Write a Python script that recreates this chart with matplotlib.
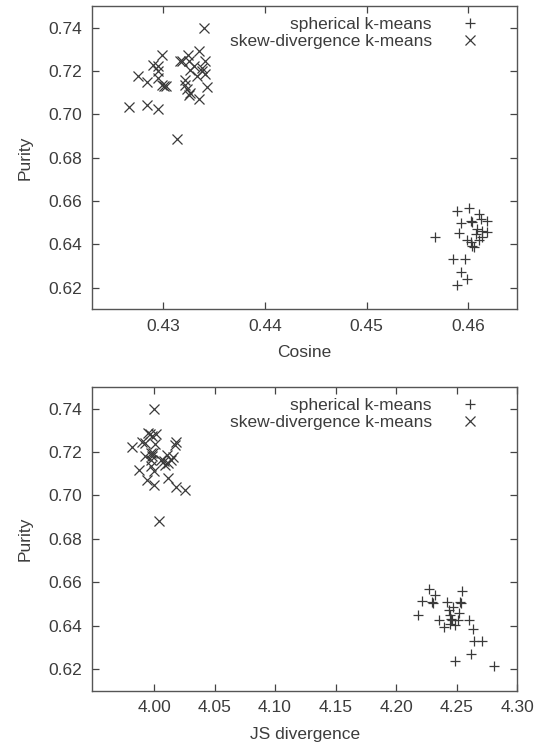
import matplotlib
matplotlib.use('Agg')
import matplotlib.pyplot as plt

# top panel: Cosine vs Purity
cos_sph_x = [0.4567, 0.4589, 0.4601, 0.4611, 0.4618, 0.4603, 0.4593, 0.4591, 0.4604,
             0.4613, 0.4609, 0.4614, 0.4618, 0.4599, 0.4603, 0.4604, 0.4606, 0.4611,
             0.4614, 0.4585, 0.4597, 0.4593, 0.4599, 0.4589, 0.4608]
cos_sph_y = [0.6433, 0.6556, 0.6569, 0.6541, 0.6510, 0.6510, 0.6498, 0.6451, 0.6502,
             0.6518, 0.6471, 0.6463, 0.6456, 0.6420, 0.6409, 0.6394, 0.6386, 0.6420,
             0.6433, 0.6332, 0.6332, 0.6270, 0.6239, 0.6211, 0.6448]
cos_skew_x = [0.4266, 0.4275, 0.4284, 0.4284, 0.4290, 0.4295, 0.4295, 0.4295, 0.4295,
              0.4299, 0.4299, 0.4301, 0.4303, 0.4313, 0.4316, 0.4318, 0.4321, 0.4321,
              0.4323, 0.4324, 0.4325, 0.4326, 0.4326, 0.4330, 0.4333, 0.4335, 0.4335,
              0.4338, 0.4338, 0.4340, 0.4341, 0.4341, 0.4343, 0.4325]
cos_skew_y = [0.7036, 0.7176, 0.7151, 0.7044, 0.7227, 0.7222, 0.7199, 0.7168, 0.7025,
              0.7276, 0.7137, 0.7132, 0.7129, 0.6885, 0.7244, 0.7245, 0.7160, 0.7137,
              0.7117, 0.7276, 0.7248, 0.7098, 0.7207, 0.7222, 0.7176, 0.7292, 0.7070,
              0.7199, 0.7214, 0.7400, 0.7245, 0.7188, 0.7126, 0.7090]

# bottom panel: JS divergence vs Purity
js_sph_x = [4.2179, 4.2216, 4.2270, 4.2321, 4.2298, 4.2307, 4.2355, 4.2400, 4.2419,
            4.2434, 4.2448, 4.2462, 4.2448, 4.2467, 4.2491, 4.2491, 4.2511, 4.2519,
            4.2533, 4.2525, 4.2547, 4.2604, 4.2638, 4.2646, 4.2711, 4.2621, 4.2807,
            4.2456]
js_sph_y = [0.6450, 0.6512, 0.6568, 0.6543, 0.6509, 0.6504, 0.6427, 0.6393, 0.6509,
            0.6470, 0.6447, 0.6424, 0.6409, 0.6486, 0.6404, 0.6239, 0.6424, 0.6459,
            0.6504, 0.6509, 0.6558, 0.6424, 0.6385, 0.6331, 0.6331, 0.6270, 0.6212,
            0.6432]
js_skew_x = [4.0000, 3.9816, 3.9873, 3.9901, 3.9929, 3.9938, 3.9949, 3.9966, 3.9972,
             3.9980, 3.9986, 4.0000, 3.9994, 4.0014, 4.0000, 3.9977, 3.9972, 4.0042,
             4.0057, 4.0079, 4.0091, 4.0105, 4.0113, 4.0119, 4.0142, 4.0156, 4.0170,
             4.0184, 4.0184, 4.0255, 3.9929, 4.0008]
js_skew_y = [0.7400, 0.7222, 0.7119, 0.7246, 0.7242, 0.7073, 0.7289, 0.7281, 0.7196,
             0.7181, 0.7273, 0.7049, 0.7196, 0.7281, 0.7111, 0.7134, 0.7165, 0.6883,
             0.7165, 0.7158, 0.7142, 0.7188, 0.7150, 0.7080, 0.7165, 0.7176, 0.7232,
             0.7246, 0.7037, 0.7026, 0.7181, 0.7235]

y_ticks = [0.62, 0.64, 0.66, 0.68, 0.70, 0.72, 0.74]
cos_ticks = [0.43, 0.44, 0.45, 0.46]
js_ticks = [4.00, 4.05, 4.10, 4.15, 4.20, 4.25, 4.30]

plt.rcParams['font.family'] = ['Liberation Sans', 'DejaVu Sans']
plt.rcParams['font.size'] = 12.5

mc = '#3a3a3a'
tc = '#3c3c3c'
fig = plt.figure(figsize=(5.37, 7.45), dpi=100)
ax1 = fig.add_axes([0.1719, 0.5848, 0.7909, 0.4071])
ax2 = fig.add_axes([0.1719, 0.0729, 0.7909, 0.4077])

panels = [
    (ax1, cos_sph_x, cos_sph_y, cos_skew_x, cos_skew_y, cos_ticks, (0.423, 0.4648), 'Cosine'),
    (ax2, js_sph_x, js_sph_y, js_skew_x, js_skew_y, js_ticks, (3.949, 4.30), 'JS divergence'),
]

for ax, sx, sy, kx, ky, xt, xl, xlab in panels:
    ax.plot(sx, sy, '+', color=mc, markersize=7, markeredgewidth=0.9, linestyle='none',
            label='spherical k-means')
    ax.plot(kx, ky, 'x', color=mc, markersize=6.5, markeredgewidth=0.9, linestyle='none',
            label='skew-divergence k-means')
    ax.set_xlim(*xl)
    ax.set_ylim(0.61, 0.75)
    ax.set_xticks(xt)
    ax.set_xticklabels(['%.2f' % v for v in xt])
    ax.set_yticks(y_ticks)
    ax.set_yticklabels(['%.2f' % v for v in y_ticks])
    ax.tick_params(direction='in', top=True, right=True, length=5, width=0.9,
                   colors='#444444', labelcolor=tc, labelsize=12.5, pad=7)
    for s in ax.spines.values():
        s.set_color('#555555')
        s.set_linewidth(1.0)
    ax.set_xlabel(xlab, color=tc, labelpad=8)
    ax.set_ylabel('Purity', color=tc, labelpad=12)
    leg = ax.legend(loc='upper right', bbox_to_anchor=(0.93, 0.964), markerfirst=False,
                    frameon=False, borderpad=0, borderaxespad=0, labelspacing=0.12,
                    handletextpad=1.2, fontsize=12.5)
    for t in leg.get_texts():
        t.set_color(tc)

fig.savefig('out.png', dpi=100)
